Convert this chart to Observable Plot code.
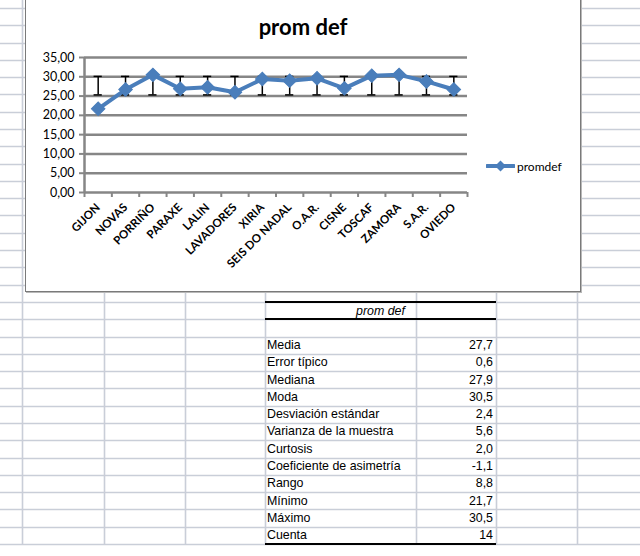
<!DOCTYPE html>
<html><head><meta charset="utf-8">
<script src="https://cdn.jsdelivr.net/npm/d3@7"></script>
<script src="https://cdn.jsdelivr.net/npm/@observablehq/plot@0.6"></script>
<style>
body{margin:0;background:#fff;}
#page{position:relative;width:640px;height:556px;overflow:hidden;font-family:"Liberation Sans",Arial,sans-serif;}
#bg{position:absolute;left:0;top:0;}
#chartbox{position:absolute;left:25px;top:-1px;width:556px;height:293px;box-sizing:border-box;background:#fff;border:1px solid #7a7a7a;box-shadow:1px 1px 0 #b8b8b8;}
#plot{position:absolute;left:25px;top:0;}
#title{position:absolute;left:25px;width:556px;top:16px;text-align:center;font-family:Lato,sans-serif;font-weight:bold;font-size:22px;line-height:22px;color:#000;}
#legend{position:absolute;left:486px;top:158px;height:16px;display:flex;align-items:center;font-family:Lato,sans-serif;font-size:12px;color:#000;}
.cell{position:absolute;font-size:12.4px;line-height:17px;color:#000;white-space:nowrap;}
.thick{position:absolute;left:265px;width:231px;height:2px;background:#000;}
</style></head>
<body><div id="page">
<svg id="bg" width="640" height="556"></svg>
<div id="chartbox"></div>
<div id="title">prom def</div>
<div id="plot"></div>
<div id="legend"><svg width="29" height="12"><line x1="1" y1="6" x2="28" y2="6" stroke="#4a7ebb" stroke-width="4" stroke-linecap="round"/><path d="M14.5,0.5 L20,6 L14.5,11.5 L9,6Z" fill="#4a7ebb"/></svg><span style="margin-left:2px">promdef</span></div>
<div id="table"></div>
</div>
<script>
const categories = ["GIJON","NOVAS","PORRIÑO","PARAXE","LALIN","LAVADORES","XIRIA","SEIS DO NADAL","O.A.R.","CISNE","TOSCAF","ZAMORA","S.A.R.","OVIEDO"];
const promdef = [21.7,26.7,30.5,26.9,27.3,26.0,29.4,29.0,29.6,27.0,30.3,30.5,28.8,26.7];
const yTicks = [0,5,10,15,20,25,30,35];
const seriesName = "promdef";
const chartTitle = "prom def";
const statLabels = ["Media","Error típico","Mediana","Moda","Desviación estándar","Varianza de la muestra","Curtosis","Coeficiente de asimetría","Rango","Mínimo","Máximo","Cuenta"];
const statValues = [27.7,0.6,27.9,30.5,2.4,5.6,2.0,-1.1,8.8,21.7,30.5,14];

const media = statValues[0], desv = statValues[4];
const lo = media - desv, hi = media + desv;
const fmt1 = v => v.toFixed(1).replace(".", ",");
const fmt2 = v => v.toFixed(2).replace(".", ",");

// spreadsheet background grid
const bg = d3.select("#bg");
const rowStep = 17.29;
for (let k = 0; k <= 31; k++) {
  const y = Math.round(8 + rowStep * k) + 0.5;
  bg.append("line").attr("x1",0).attr("x2",640).attr("y1",y).attr("y2",y).attr("stroke","#c9ced8").attr("stroke-width",1.6);
}
[22.5,104.5,185.5,265.5,416.5,496.5,577.5].forEach(x => {
  bg.append("line").attr("x1",x).attr("x2",x).attr("y1",0).attr("y2",545).attr("stroke","#c9ced8").attr("stroke-width",1.6);
});

// chart
const data = categories.map((c, i) => ({cat: c, x: i + 0.5, v: promdef[i]}));
const gray = "#868686";
const blue = "#4a7ebb";
const chart = Plot.plot({
  width: 555, height: 292,
  marginLeft: 59, marginRight: 113, marginTop: 57, marginBottom: 100,
  style: {fontFamily: "Lato, sans-serif", background: "transparent", overflow: "visible"},
  x: {domain: [0, categories.length], axis: null},
  y: {domain: [0, 35], axis: null},
  marks: [
    Plot.gridY(yTicks, {stroke: gray, strokeOpacity: 1, strokeWidth: 2.5}),
    Plot.ruleX([0], {stroke: gray, strokeWidth: 2.5}),
    Plot.axisY({ticks: yTicks, tickSize: 5, tickPadding: 5, tickFormat: fmt2, stroke: gray, strokeWidth: 2, fill: "#000", fontSize: 12.5, label: null}),
    Plot.axisX({ticks: d3.range(categories.length + 1), tickSize: 5, tickFormat: () => "", stroke: gray, strokeWidth: 2, label: null}),
    Plot.ruleX(data, {x: "x", y1: lo, y2: hi, stroke: "#000", strokeWidth: 1.5}),
    Plot.ruleY(data, {x1: d => d.x - 0.15, x2: d => d.x + 0.15, y: lo, stroke: "#000", strokeWidth: 1.5}),
    Plot.ruleY(data, {x1: d => d.x - 0.15, x2: d => d.x + 0.15, y: hi, stroke: "#000", strokeWidth: 1.5}),
    Plot.line(data, {x: "x", y: "v", stroke: blue, strokeWidth: 4}),
    Plot.dot(data, {x: "x", y: "v", symbol: "square", r: 5.4, rotate: 45, fill: blue, stroke: blue, strokeWidth: 1}),
    Plot.text(data, {x: "x", y: 0, text: "cat", rotate: -45, textAnchor: "end", dx: 0, dy: 13, fontWeight: "bold", fontSize: 11.5, fill: "#000"})
  ]
});
document.getElementById("plot").appendChild(chart);
document.getElementById("title").textContent = chartTitle;

// table
const tbl = document.getElementById("table");
const rowTop = k => 8 + rowStep * k;
const addDiv = (cls, style, text) => {
  const d = document.createElement("div");
  d.className = cls; Object.assign(d.style, style); if (text != null) d.textContent = text;
  tbl.appendChild(d);
};
[17, 18, 31].forEach(k => addDiv("thick", {top: (Math.round(rowTop(k)) - 1) + "px"}));
addDiv("cell", {left: "265px", width: "231px", textAlign: "center", top: (rowTop(17) + 1) + "px", fontStyle: "italic"}, chartTitle);
statLabels.forEach((lab, i) => {
  const t = rowTop(19 + i) + 0.5;
  addDiv("cell", {left: "267px", top: t + "px"}, lab);
  const v = statValues[i];
  const txt = i === statLabels.length - 1 ? String(v) : fmt1(v);
  addDiv("cell", {left: "420px", width: "73px", textAlign: "right", top: t + "px"}, txt);
});
</script>
</body></html>
